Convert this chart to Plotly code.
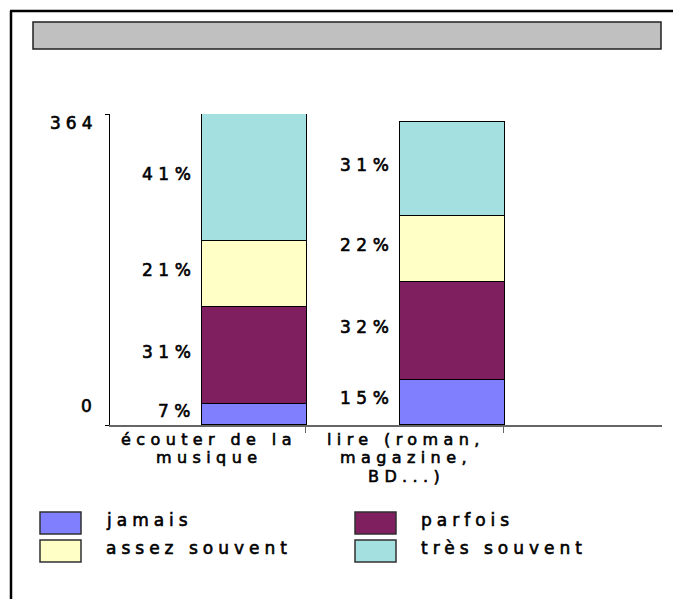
import plotly.graph_objects as go

# --- data -------------------------------------------------------------
categories = ["écouter de la<br>musique", "lire (roman,<br>magazine,<br>BD...)"]
series_names = ["jamais", "parfois", "assez souvent", "très souvent"]
jamais = [24, 53]
parfois = [114, 114]
assez_souvent = [77, 78]
tres_souvent = [149, 110]
series_values = [jamais, parfois, assez_souvent, tres_souvent]
series_colors = ["#8080FF", "#7F1F5F", "#FFFFC6", "#A4E0E0"]
y_tick_values = [0, 364]
y_tick_labels = ["0", "364"]

# --- layout geometry (pixels) -----------------------------------------
W, H = 673, 599
L, R, T, B = 110, 11, 114, 174
PW, PH = W - L - R, H - T - B
FONT = "DejaVu Sans"
FSIZE = 17
CAT_FSIZE = 16


def px_x(p):
    return (p - L) / PW


def px_y(p):
    return (H - B - p) / PH


def spaced(text, spacing=5):
    style = f"letter-spacing:{spacing}px;stroke:black;stroke-width:0.6px"
    return f'<span style="{style}">{text}</span>'


BAR_WIDTH = 0.53
BAR_OFFSET = -0.022
xpos = list(range(len(categories)))
totals = [sum(v[i] for v in series_values) for i in xpos]

fig = go.Figure()
for name, vals, col in zip(series_names, series_values, series_colors):
    fig.add_trace(go.Bar(
        x=xpos, y=vals, name=name,
        width=BAR_WIDTH, offset=BAR_OFFSET,
        marker=dict(color=col, line=dict(color="black", width=1)),
        showlegend=False, hoverinfo="skip",
    ))

annotations = []

# percentage labels to the left of each segment
for i in xpos:
    base = 0
    for vals in series_values:
        v = vals[i]
        pct = round(v / totals[i] * 100)
        annotations.append(dict(
            x=i + BAR_OFFSET, y=base + v / 2, xref="x", yref="y",
            text=spaced(f"{pct}%", 5.5), showarrow=False,
            xanchor="right", yanchor="middle", xshift=-4, yshift=4,
        ))
        base += v

# value axis labels
y_label_shift = {0: 19, 364: -9}
for v, lab in zip(y_tick_values, y_tick_labels):
    annotations.append(dict(
        x=0, y=v, xref="paper", yref="y", text=spaced(lab), showarrow=False,
        xanchor="right", yanchor="middle", xshift=-11, yshift=y_label_shift[v],
    ))

# category labels, one annotation per line
LINE_GAP = 18.7
for i, cat in enumerate(categories):
    for k, line in enumerate(cat.split("<br>")):
        annotations.append(dict(
            x=i, y=px_y(439 + k * LINE_GAP), xref="x", yref="paper",
            text=spaced(line, 5.4), showarrow=False,
            font=dict(size=CAT_FSIZE),
            xanchor="center", yanchor="middle", xshift=2,
        ))

# legend drawn as swatches + labels in two columns
shapes = []
legend_cols = [(40, 104), (355, 419)]
legend_rows = [523, 551]
for idx, (name, col) in enumerate(zip(series_names, series_colors)):
    c = idx % 2
    r = idx // 2
    sx, tx = legend_cols[c]
    cy = legend_rows[r]
    shapes.append(dict(
        type="rect", xref="paper", yref="paper",
        x0=px_x(sx), x1=px_x(sx + 41), y0=px_y(cy - 11), y1=px_y(cy + 11),
        fillcolor=col, line=dict(color="#303030", width=1.5),
    ))
    annotations.append(dict(
        x=px_x(tx), y=px_y(cy - 3), xref="paper", yref="paper",
        text=spaced(name), showarrow=False, xanchor="left", yanchor="middle",
    ))

# outer frame (left and top edges) and the empty grey title bar
shapes.append(dict(type="line", xref="paper", yref="paper",
                   x0=px_x(11), x1=px_x(11), y0=px_y(11), y1=px_y(602),
                   line=dict(color="black", width=2.5)))
shapes.append(dict(type="line", xref="paper", yref="paper",
                   x0=px_x(10), x1=px_x(676), y0=px_y(11), y1=px_y(11),
                   line=dict(color="black", width=2.5)))
shapes.append(dict(type="rect", xref="paper", yref="paper",
                   x0=px_x(33), x1=px_x(661), y0=px_y(22), y1=px_y(49),
                   fillcolor="#C0C0C0", line=dict(color="#202020", width=1.5)))

fig.update_layout(
    width=W, height=H,
    margin=dict(l=L, r=R, t=T, b=B, pad=0),
    paper_bgcolor="white", plot_bgcolor="white",
    font=dict(family=FONT, size=FSIZE, color="black"),
    barmode="stack", bargap=0,
    annotations=annotations, shapes=shapes,
    xaxis=dict(
        range=[-0.49, 2.305], showgrid=False, zeroline=False,
        showline=True, linecolor="#666666", linewidth=1.5,
        tickvals=[0.5, 1.5], ticktext=["", ""], ticks="outside",
        ticklen=6, tickcolor="#666666", tickwidth=1,
    ),
    yaxis=dict(
        range=[0, 364], showgrid=False, zeroline=False,
        showline=True, linecolor="black", linewidth=1,
        tickvals=y_tick_values, ticktext=["", ""], ticks="outside",
        ticklen=4, tickcolor="black", tickwidth=1,
    ),
)

fig.write_html("out.html")
